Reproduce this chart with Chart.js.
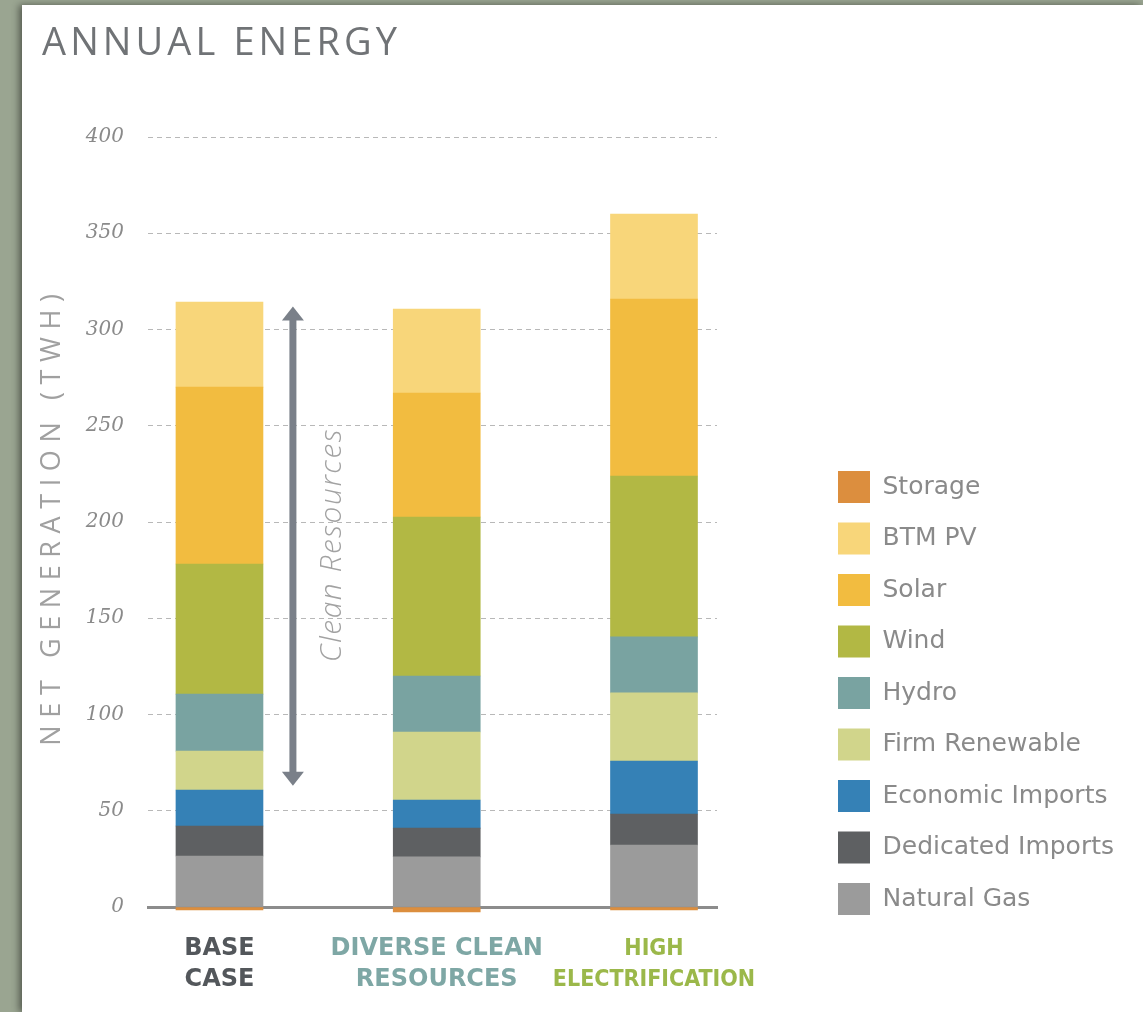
<!DOCTYPE html>
<html>
<head>
<meta charset="utf-8">
<script src="https://cdn.jsdelivr.net/npm/chart.js@4.4.1/dist/chart.umd.min.js"></script>
<style>
  html, body { margin: 0; padding: 0; width: 1143px; height: 1012px; overflow: hidden; background: #9aa591; }
  #panel { position: absolute; left: 22px; top: 5px; width: 1121px; height: 1007px; background: #ffffff;
           box-shadow: -3px 0 7px rgba(0,0,0,0.45); }
  #c { position: absolute; left: 0; top: 0; }
  #title { position: absolute; left: 20px; top: 16px; font: 400 38px/38px 'Open Sans', sans-serif;
           letter-spacing: 4.1px; color: #707376; white-space: nowrap; }
  #ytitle { position: absolute; left: -272px; top: 491px; width: 600px; height: 40px; line-height: 40px;
            text-align: center; font-family: 'Open Sans', sans-serif; font-size: 27px; letter-spacing: 7.6px;
            color: #a0a0a0; white-space: nowrap; transform: rotate(-90deg); }
</style>
</head>
<body>
<div id="panel">
  <canvas id="c" width="1121" height="1007"></canvas>
  <div id="title">ANNUAL ENERGY</div>
  <div id="ytitle">NET GENERATION (TWH)</div>
</div>
<script>
// ---- data ----
const categories = [['BASE', 'CASE'], ['DIVERSE CLEAN', 'RESOURCES'], ['HIGH', 'ELECTRIFICATION']];
const categoryColors = ['#53575b', '#7ea7a5', '#9bb84a'];
const naturalGas       = [26.5, 26.0, 32.2];
const dedicatedImports = [15.6, 15.0, 16.1];
const economicImports  = [18.7, 14.6, 27.5];
const firmRenewable    = [20.2, 35.3, 35.4];
const hydro            = [29.6, 29.1, 29.1];
const wind             = [67.6, 82.6, 83.6];
const solar            = [91.9, 64.4, 91.9];
const btmPV            = [44.2, 43.6, 44.2];
const storage          = [-1.5, -2.5, -1.5];
const yTickValues = [0, 50, 100, 150, 200, 250, 300, 350, 400];
const cleanResourcesRange = [63, 312];
const cleanResourcesLabel = 'Clean Resources';

// ---- styling / layout constants ----
const FONT_SANS = "'Open Sans', sans-serif";
const LEGEND_FONT = "'DejaVu Sans', sans-serif";
const LEGEND_FONT_SIZE = 25;
const LEGEND_BOX = 32;
const LEGEND_PAD = 19.5;
const CANVAS_W = 1121;
const LEGEND_LEFT = 796.5;
const PLOT_RIGHT = 695;
const ARROW_X = 0.338;
const ARROW_TEXT_X = 0.522;
const ARROW_TEXT_Y = 188;

const seriesDefs = [
  {label: 'Natural Gas',       data: naturalGas,       color: '#9b9b9b'},
  {label: 'Dedicated Imports', data: dedicatedImports, color: '#5e6062'},
  {label: 'Economic Imports',  data: economicImports,  color: '#3581b6'},
  {label: 'Firm Renewable',    data: firmRenewable,    color: '#d1d58b'},
  {label: 'Hydro',             data: hydro,            color: '#79a3a1'},
  {label: 'Wind',              data: wind,             color: '#b2b844'},
  {label: 'Solar',             data: solar,            color: '#f2bc40'},
  {label: 'BTM PV',            data: btmPV,            color: '#f8d67a'},
  {label: 'Storage',           data: storage,          color: '#dc8e3e'}
];

// measure legend width so that the legend lands where the reference has it
const mctx = document.createElement('canvas').getContext('2d');
mctx.font = 'normal ' + LEGEND_FONT_SIZE + 'px ' + LEGEND_FONT;
const maxText = Math.max(...seriesDefs.map(s => mctx.measureText(s.label).width));
const legendWidth = LEGEND_PAD + LEGEND_BOX + LEGEND_FONT_SIZE / 2 + maxText + 10;
const padRight = Math.max(0, CANVAS_W - LEGEND_LEFT - legendWidth);
const gapWidth = LEGEND_LEFT - PLOT_RIGHT;

const datasets = seriesDefs.map(s => ({
  label: s.label,
  data: s.data.map((v, i) => ({x: i, y: v})),
  backgroundColor: s.color,
  borderWidth: 0,
  barThickness: 87,
  clip: false
}));

const cleanResourcesPlugin = {
  id: 'cleanResources',
  afterDatasetsDraw(chart) {
    const {ctx, scales: {x, y}} = chart;
    const px = x.getPixelForValue(ARROW_X);
    const top = y.getPixelForValue(cleanResourcesRange[1]);
    const bot = y.getPixelForValue(cleanResourcesRange[0]);
    ctx.save();
    ctx.fillStyle = '#7a8089';
    ctx.fillRect(px - 3.5, top + 10, 7, bot - top - 20);
    ctx.beginPath();
    ctx.moveTo(px, top); ctx.lineTo(px + 11, top + 14); ctx.lineTo(px - 11, top + 14); ctx.closePath(); ctx.fill();
    ctx.beginPath();
    ctx.moveTo(px, bot); ctx.lineTo(px + 11, bot - 14); ctx.lineTo(px - 11, bot - 14); ctx.closePath(); ctx.fill();
    const tx = x.getPixelForValue(ARROW_TEXT_X);
    const ty = y.getPixelForValue(ARROW_TEXT_Y);
    ctx.translate(tx, ty);
    ctx.rotate(-Math.PI / 2);
    ctx.font = 'italic 300 30px ' + FONT_SANS;
    ctx.letterSpacing = '1.5px';
    ctx.textAlign = 'center';
    ctx.textBaseline = 'middle';
    ctx.fillStyle = '#a2a2a2';
    ctx.fillText(cleanResourcesLabel, 0, 0);
    ctx.restore();
  }
};

new Chart(document.getElementById('c'), {
  type: 'bar',
  data: {datasets},
  plugins: [cleanResourcesPlugin],
  options: {
    responsive: false,
    animation: false,
    layout: {padding: {left: 0, top: 132, right: padRight, bottom: 77.5}},
    plugins: {
      title: {display: false},
      tooltip: {enabled: false},
      legend: {
        position: 'right',
        align: 'end',
        reverse: true,
        maxWidth: 600,
        labels: {
          boxWidth: LEGEND_BOX,
          boxHeight: LEGEND_BOX,
          padding: LEGEND_PAD,
          color: '#8a8a8a',
          font: {family: LEGEND_FONT, size: LEGEND_FONT_SIZE}
        }
      }
    },
    scales: {
      x: {
        type: 'linear',
        stacked: true,
        offset: false,
        min: -0.329,
        max: 2.29,
        afterBuildTicks: (s) => { s.ticks = categories.map((c, i) => ({value: i})); },
        afterFit: (s) => { s.height = 27.5; },
        grid: {display: false, drawTicks: false, offset: false},
        border: {display: true, color: '#8c8c8c', width: 3},
        ticks: {
          autoSkip: false,
          maxRotation: 0,
          mirror: true,
          padding: -57.5,
          callback: (v) => categories[v],
          color: (c) => categoryColors[c.index],
          font: (c) => ({family: c.index === 2 ? "'DejaVu Sans Condensed', 'Liberation Sans Narrow', 'DejaVu Sans', sans-serif" : "'DejaVu Sans', sans-serif",
                         weight: 'bold', size: c.index === 2 ? 23 : 24, lineHeight: c.index === 2 ? 31 / 23 : 31 / 24})
        }
      },
      y: {
        stacked: true,
        min: 0,
        max: 400,
        afterBuildTicks: (s) => { s.ticks = yTickValues.map(v => ({value: v})); },
        afterFit: (s) => { s.width = 126; },
        grid: {color: '#b8b8b8', lineWidth: 1, drawTicks: false},
        border: {display: false, dash: [5, 4]},
        ticks: {
          padding: 24,
          color: '#8a8a8a',
          font: {family: "'DejaVu Serif', serif", style: 'italic', size: 20}
        }
      },
      gap: {
        type: 'linear',
        position: 'right',
        display: true,
        grid: {display: false},
        border: {display: false},
        ticks: {display: false},
        afterFit: (s) => { s.width = gapWidth; }
      }
    }
  }
});
</script>
</body>
</html>
